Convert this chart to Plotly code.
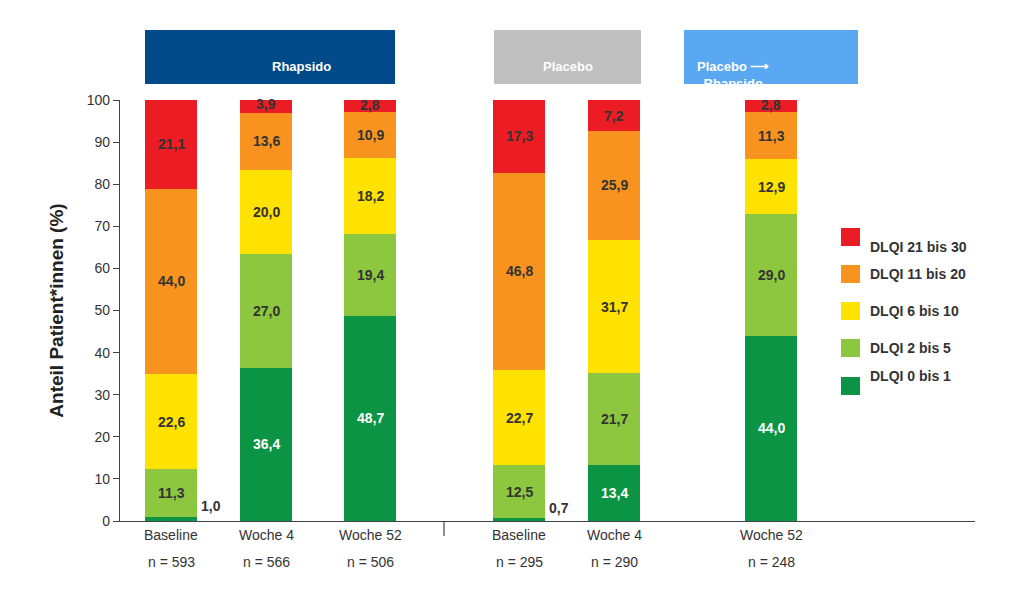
import plotly.graph_objects as go

groups = ["Baseline", "Woche 4", "Woche 52", "Baseline", "Woche 4", "Woche 52"]
ns = ["n = 593", "n = 566", "n = 506", "n = 295", "n = 290", "n = 248"]
series = ["DLQI 0 bis 1", "DLQI 2 bis 5", "DLQI 6 bis 10", "DLQI 11 bis 20", "DLQI 21 bis 30"]
dlqi_0_1 = [1.0, 36.4, 48.7, 0.7, 13.4, 44.0]
dlqi_2_5 = [11.3, 27.0, 19.4, 12.5, 21.7, 29.0]
dlqi_6_10 = [22.6, 20.0, 18.2, 22.7, 31.7, 12.9]
dlqi_11_20 = [44.0, 13.6, 10.9, 46.8, 25.9, 11.3]
dlqi_21_30 = [21.1, 3.9, 2.8, 17.3, 7.2, 2.8]
values = [dlqi_0_1, dlqi_2_5, dlqi_6_10, dlqi_11_20, dlqi_21_30]

xpos = [171, 266, 370, 519, 614, 771]
colors = ["#0a9444", "#8dc63f", "#ffe200", "#f7931e", "#ec1c24"]
txtcol = ["white", "#333333", "#333333", "#333333", "#333333"]
FONT = "Liberation Sans, Arial, sans-serif"

fig = go.Figure()
ann = []
for s, vals, c in zip(series, values, colors):
    fig.add_trace(go.Bar(x=xpos, y=vals, name=s, marker=dict(color=c, line=dict(width=0)),
                         width=52, showlegend=False, hoverinfo="y+name"))
base = [0] * 6
for si, vals in enumerate(values):
    for i, v in enumerate(vals):
        lbl = f"{v:.1f}".replace(".", ",")
        if v < 2:
            ann.append(dict(x=xpos[i] + 40, y=v + 2.5, text=f"<b>{lbl}</b>", showarrow=False,
                            font=dict(size=14, color="#333333", family=FONT)))
        else:
            yc = base[i] + v / 2
            if v < 5:
                yc = min(base[i] + v / 2 + 0.2, 99.3)
            ann.append(dict(x=xpos[i], y=yc, text=f"<b>{lbl}</b>", showarrow=False,
                            font=dict(size=14, color=txtcol[si], family=FONT)))
        base[i] += v

# reference pixel -> plot-area paper coords (plot area x 120..975, y 100..521)
def px(x): return (x - 120) / 855
def py(y): return (521 - y) / 421

for i in range(6):
    ann.append(dict(x=xpos[i], y=py(545), yref="paper", text=groups[i], showarrow=False,
                    font=dict(size=14, color="#333333", family=FONT)))
    ann.append(dict(x=xpos[i], y=py(572), yref="paper", text=ns[i], showarrow=False,
                    font=dict(size=14, color="#333333", family=FONT)))

shapes = []
headers = [(145, 395, "#004a8a", "Rhapsido"), (494, 641, "#c0c0c0", "Placebo"),
           (684, 858, "#5ba8f2", "Placebo ⟶<br>Rhapsido")]
for x0, x1, c, t in headers:
    shapes.append(dict(type="rect", xref="paper", yref="paper", x0=px(x0), x1=px(x1),
                       y0=py(84), y1=py(30), fillcolor=c, line=dict(width=0), layer="above"))
    ann.append(dict(xref="paper", yref="paper", x=px((x0 + x1) / 2), y=py(57), text=f"<b>{t}</b>",
                    showarrow=False, font=dict(size=13, color="white", family=FONT)))
shapes.append(dict(type="line", xref="paper", yref="paper", x0=px(444), x1=px(444),
                   y0=py(521), y1=py(536), line=dict(color="#444", width=1.2)))
leg_y = [237, 274, 311, 348, 386]
for k, si in enumerate([4, 3, 2, 1, 0]):
    y = leg_y[k]
    shapes.append(dict(type="rect", xref="paper", yref="paper", x0=px(841), x1=px(860),
                       y0=py(y + 9), y1=py(y - 9), fillcolor=colors[si], line=dict(width=0)))
    ann.append(dict(xref="paper", yref="paper", x=px(868), y=py(y), xanchor="left", text=f"<b>{series[si]}</b>",
                    showarrow=False, font=dict(size=14, color="#333333", family=FONT)))

fig.update_layout(
    width=1024, height=610, barmode="stack", bargap=0,
    margin=dict(l=112, r=57, t=92, b=97),
    plot_bgcolor="white", paper_bgcolor="white",
    font=dict(family=FONT, color="#333333"),
    xaxis=dict(range=[120, 975], showticklabels=False, showgrid=False, zeroline=False,
               showline=True, linecolor="#444", linewidth=1.2, ticks=""),
    yaxis=dict(range=[0, 100], dtick=10, showgrid=False, zeroline=False, showline=True,
               linecolor="#444", linewidth=1.2, ticks="outside", ticklen=6, tickcolor="#444",
               tickfont=dict(size=14, color="#333333"),
               title=dict(text="<b>Anteil Patient*innen (%)</b>", font=dict(size=19, color="#222"), standoff=18)),
    annotations=ann, shapes=shapes,
)
fig.write_html("out.html")
